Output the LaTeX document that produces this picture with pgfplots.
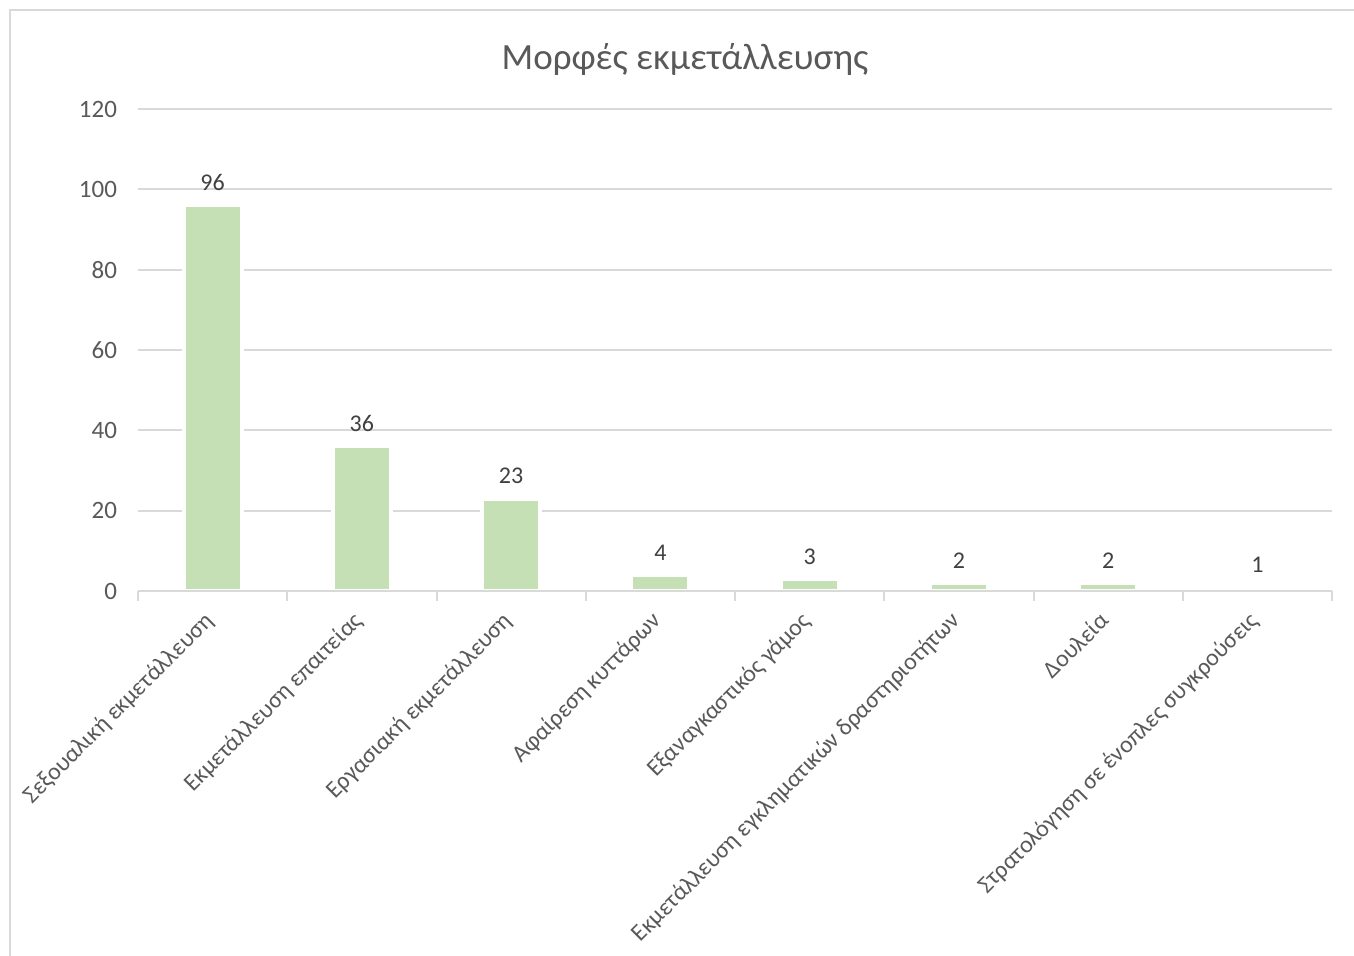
\documentclass[border=0pt]{standalone}
\usepackage{pgfplots}
\pgfplotsset{compat=1.18}
\usepackage{fontspec}
\setmainfont{Carlito}
\definecolor{barg}{HTML}{C5E0B4}
\definecolor{gridc}{HTML}{D9D9D9}
\definecolor{txt}{HTML}{595959}
\definecolor{lbl}{HTML}{404040}
\begin{document}
\begin{tikzpicture}
\path[use as bounding box] (-69pt,-182pt) rectangle (608pt,295.5pt);
\draw[gridc, line width=1pt] (-64pt,-190pt) -- (-64pt,290.5pt) -- (615pt,290.5pt);
\begin{axis}[
  at={(0,0)}, anchor=south west,
  scale only axis, width=597pt, height=241pt,
  xmin=-0.5, xmax=7.5, ymin=0, ymax=120,
  ytick={0,20,...,120},
  xtick={0,...,7},
  xticklabels={Σεξουαλική εκμετάλλευση, Εκμετάλλευση επαιτείας, Εργασιακή εκμετάλλευση, Αφαίρεση κυττάρων, Εξαναγκαστικός γάμος, Εκμετάλλευση εγκληματικών δραστηριοτήτων, Δουλεία, Στρατολόγηση σε ένοπλες συγκρούσεις},
  minor xtick={-0.5,0.5,...,7.5},
  xtick pos=bottom,
  major tick length=0pt,
  minor tick length=5pt,
  tick align=outside,
  every minor tick/.style={gridc, line width=1pt},
  ymajorgrids, grid style={gridc, line width=1pt},
  axis line style={draw=none},
  /pgf/number format/assume math mode=true,
  yticklabel style={font=\fontsize{12.5}{14}\selectfont, text=txt, xshift=-7pt},
  xticklabel style={font=\fontsize{12}{14}\selectfont, text=txt, xshift=-5pt, yshift=-8pt, rotate=45, anchor=north east, inner sep=1pt},
  ytick style={draw=none},
  clip=false,
]
\addplot[ybar, bar width=29pt, fill=barg, draw=white, line width=2pt,
  nodes near coords, every node near coord/.append style={font=\fontsize{12}{14}\selectfont, text=lbl, yshift=3pt}]
  coordinates {(0,96) (1,36) (2,23) (3,4) (4,3) (5,2) (6,2) (7,1)};
\draw[gridc, line width=1pt] (axis cs:-0.5,0) -- (axis cs:7.5,0);
\end{axis}
\node[text=txt, font=\fontsize{18.5}{22}\selectfont] at (273.5pt,266pt) {Μορφές εκμετάλλευσης};
\end{tikzpicture}
\end{document}
